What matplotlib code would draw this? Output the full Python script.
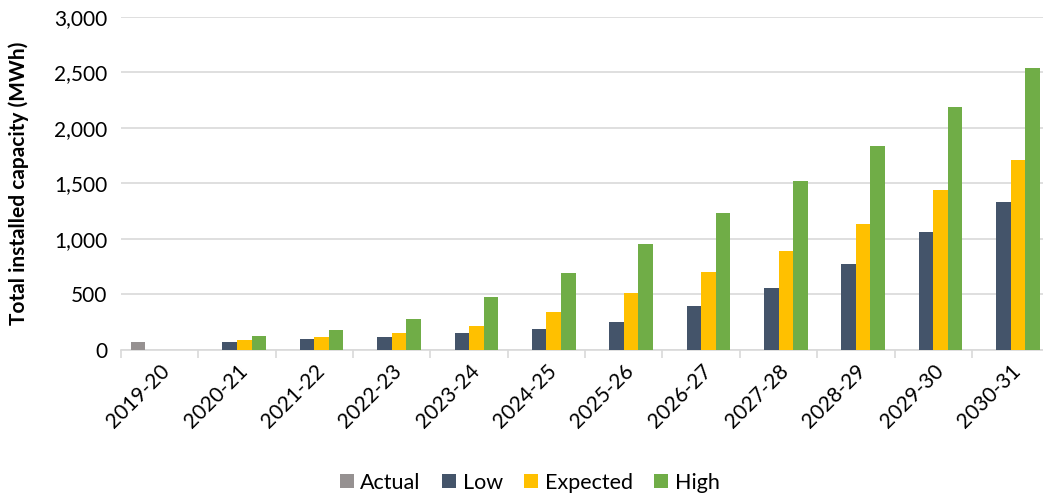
import numpy as np
import matplotlib
matplotlib.use("Agg")
import matplotlib.pyplot as plt
from matplotlib.ticker import FuncFormatter, FixedLocator

plt.rcParams['font.family'] = ['Lato', 'DejaVu Sans']

# 데이터
years = ["2019-20", "2020-21", "2021-22", "2022-23", "2023-24", "2024-25",
         "2025-26", "2026-27", "2027-28", "2028-29", "2029-30", "2030-31"]
actual = [70, 0, 0, 0, 0, 0, 0, 0, 0, 0, 0, 0]
low = [0, 70, 100, 120, 150, 185, 255, 395, 560, 775, 1060, 1330]
expected = [0, 90, 120, 155, 215, 340, 510, 700, 890, 1135, 1440, 1710]
high = [0, 125, 180, 280, 475, 690, 950, 1230, 1520, 1835, 2190, 2540]

series = [("Actual", actual, "#969191"), ("Low", low, "#44546A"),
          ("Expected", expected, "#FFC000"), ("High", high, "#70AD47")]

fig = plt.figure(figsize=(10.43, 4.97), dpi=100)
ax = fig.add_axes([0.116, 0.296, 0.890, 0.670])

x = np.arange(len(years))
w = 0.188
for i, (name, vals, col) in enumerate(series):
    ax.bar(x + (i - 1.5) * w, vals, w, color=col, label=name, zorder=3)

ax.set_xlim(-0.5, len(years) - 0.5)
ax.set_ylim(0, 3000)
ax.set_yticks(np.arange(0, 3001, 500))
ax.yaxis.set_major_formatter(FuncFormatter(lambda v, p: f"{int(v):,}"))
ax.grid(axis='y', color='#D9D9D9', linewidth=1.2, zorder=0)

for s in ['top', 'right', 'left']:
    ax.spines[s].set_visible(False)
ax.spines['bottom'].set_color('#D9D9D9')
ax.spines['bottom'].set_linewidth(1.2)

ax.tick_params(axis='y', length=0, labelsize=15, pad=10)
ax.xaxis.set_major_locator(FixedLocator(np.arange(-0.5, len(years), 1)))
ax.xaxis.set_major_formatter(FuncFormatter(lambda v, p: ""))
ax.tick_params(axis='x', which='major', length=6, color='#D9D9D9', width=1.2)
ax.set_xticks(x, minor=True)
ax.set_xticklabels(years, minor=True, rotation=45, ha='right',
                   rotation_mode='anchor', fontsize=15)
ax.tick_params(axis='x', which='minor', length=0, pad=8)

ax.set_ylabel("Total installed capacity (MWh)", fontsize=15,
              fontweight='bold', labelpad=18)

fig.legend(loc='lower center', bbox_to_anchor=(0.508, -0.03), ncol=4,
           frameon=False, fontsize=15.5, handlelength=0.65, handleheight=0.65,
           handletextpad=0.3, columnspacing=1.0)

fig.savefig("out.png", dpi=100)
